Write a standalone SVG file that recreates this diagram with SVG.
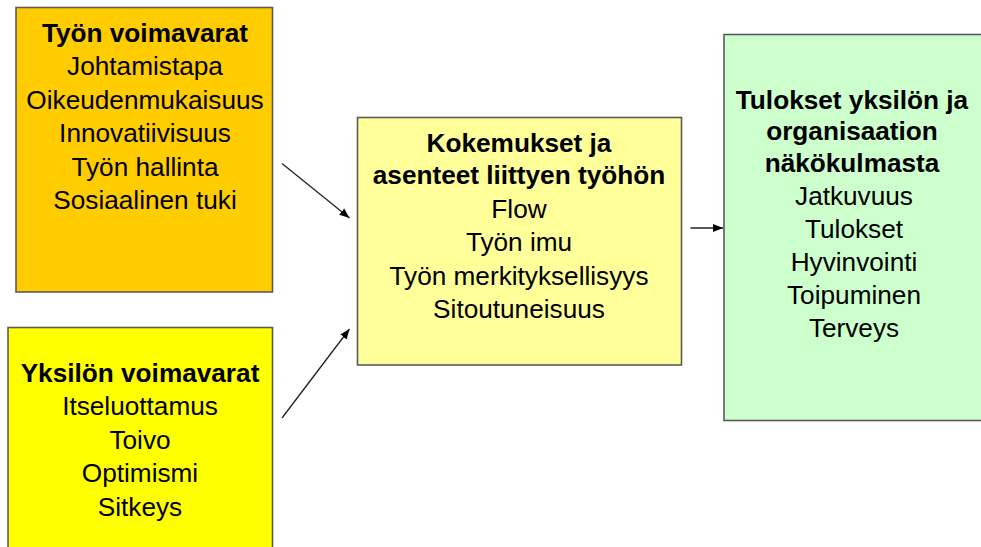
<svg xmlns="http://www.w3.org/2000/svg" width="981" height="547" viewBox="0 0 981 547">
<style>
.box{stroke:#5a5a5a;stroke-width:1.6}
text{font-family:"Liberation Sans",Arial,sans-serif;font-size:26.2px;fill:#000;text-anchor:middle}
.b{font-weight:bold}
.conn{stroke:#222;stroke-width:1.3;fill:none;marker-end:url(#ah)}
</style>
<defs>
<marker id="ah" markerWidth="12" markerHeight="12" refX="10" refY="5.5" orient="auto" markerUnits="userSpaceOnUse">
<path d="M0,1.5 L10,5.5 L0,9.5 Z" fill="#000"/>
</marker>
</defs>
<rect width="981" height="547" fill="#fff"/>
<g id="tyon-voimavarat">
<rect class="box" x="16" y="7.5" width="256.5" height="284.5" fill="#FFCC00"/>
<text x="145" y="41.5" class="b">Työn voimavarat</text>
<text x="145" y="75">Johtamistapa</text>
<text x="145" y="108.5">Oikeudenmukaisuus</text>
<text x="145" y="142">Innovatiivisuus</text>
<text x="145" y="175.5">Työn hallinta</text>
<text x="145" y="209">Sosiaalinen tuki</text>
</g>
<g id="yksilon-voimavarat">
<rect class="box" x="8" y="327.5" width="264.5" height="230" fill="#FFFF00"/>
<text x="140" y="381.5" class="b">Yksilön voimavarat</text>
<text x="140" y="415">Itseluottamus</text>
<text x="140" y="448.5">Toivo</text>
<text x="140" y="482">Optimismi</text>
<text x="140" y="515.5">Sitkeys</text>
</g>
<g id="kokemukset">
<rect class="box" x="357.5" y="117.5" width="324" height="247.5" fill="#FFFF99"/>
<text x="519" y="151.5" class="b">Kokemukset ja</text>
<text x="519" y="184" class="b">asenteet liittyen työhön</text>
<text x="519" y="218">Flow</text>
<text x="519" y="251">Työn imu</text>
<text x="519" y="284.5">Työn merkityksellisyys</text>
<text x="519" y="318">Sitoutuneisuus</text>
</g>
<g id="tulokset">
<rect class="box" x="724" y="34.5" width="270" height="386" fill="#CCFFCC"/>
<text x="852" y="108.5" class="b">Tulokset yksilön ja</text>
<text x="852" y="140" class="b">organisaation</text>
<text x="852" y="172" class="b">näkökulmasta</text>
<text x="854" y="205">Jatkuvuus</text>
<text x="854" y="238">Tulokset</text>
<text x="854" y="271">Hyvinvointi</text>
<text x="854" y="304">Toipuminen</text>
<text x="854" y="337">Terveys</text>
</g>
<g id="connectors">
<line class="conn" x1="282" y1="163.5" x2="349.5" y2="218"/>
<line class="conn" x1="282" y1="418" x2="349.5" y2="329"/>
<line class="conn" x1="690.5" y1="228" x2="723" y2="228"/>
</g>
</svg>
